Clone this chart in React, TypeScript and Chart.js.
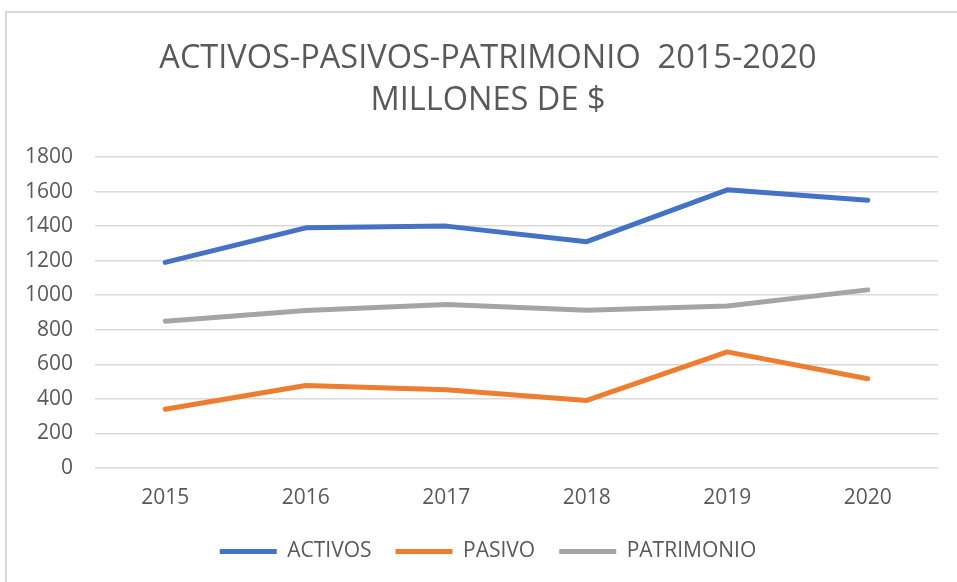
import React, { useEffect, useRef } from "react";
import { Chart, registerables } from "chart.js";

Chart.register(...registerables);

const categories = ["2015", "2016", "2017", "2018", "2019", "2020"];
const activos = [1190, 1390, 1400, 1310, 1610, 1550];
const pasivo = [340, 478, 453, 391, 672, 517];
const patrimonio = [850, 912, 947, 913, 938, 1031];
const seriesNames = ["ACTIVOS", "PASIVO", "PATRIMONIO"];
const titleLines = ["ACTIVOS-PASIVOS-PATRIMONIO  2015-2020", "MILLONES DE $"];
const yMin = 0;
const yMax = 1800;
const yStep = 200;

const FONT = "'Open Sans', 'Noto Sans', sans-serif";
const TEXT = "#595959";

const shiftBlocks = {
  id: "shiftBlocks",
  afterLayout(chart: any) {
    const dx = 7;
    if (chart.titleBlock) {
      chart.titleBlock.left += dx;
      chart.titleBlock.right += dx;
    }
    if (chart.legend) {
      chart.legend.left += dx;
      chart.legend.right += dx;
      chart.legend.top += 13;
      chart.legend.bottom += 13;
    }
  },
};

export default function App() {
  const ref = useRef<HTMLCanvasElement | null>(null);

  useEffect(() => {
    document.body.style.margin = "0";
    const canvas = ref.current;
    if (!canvas) return;
    const chart = new Chart(canvas, {
      type: "line",
      data: {
        labels: categories,
        datasets: [
          { label: seriesNames[0], data: activos, borderColor: "#4472C4", backgroundColor: "#4472C4" },
          { label: seriesNames[1], data: pasivo, borderColor: "#ED7D31", backgroundColor: "#ED7D31" },
          { label: seriesNames[2], data: patrimonio, borderColor: "#A5A5A5", backgroundColor: "#A5A5A5" },
        ].map((d) => ({
          ...d,
          borderWidth: 5,
          pointRadius: 0,
          pointHoverRadius: 0,
          tension: 0,
          borderCapStyle: "round" as const,
          borderJoinStyle: "round" as const,
          fill: false,
        })),
      },
      plugins: [shiftBlocks],
      options: {
        animation: false,
        responsive: false,
        maintainAspectRatio: false,
        layout: { padding: { left: 24, right: 19, top: 0, bottom: 23 } },
        plugins: {
          title: {
            display: true,
            text: titleLines,
            color: TEXT,
            font: { family: FONT, size: 32.5, weight: "normal", lineHeight: 42 / 32.5 },
            padding: { top: 38, bottom: 35 },
          },
          legend: {
            position: "bottom",
            labels: {
              usePointStyle: true,
              pointStyle: "line",
              pointStyleWidth: 57,
              boxHeight: 6,
              color: TEXT,
              font: { family: FONT, size: 21 },
              padding: 24,
            },
          },
          tooltip: { enabled: false },
        },
        scales: {
          x: {
            offset: true,
            grid: { display: false, drawTicks: false },
            border: { display: false },
            ticks: { color: TEXT, font: { family: FONT, size: 21 }, padding: 17 },
            afterFit: (scale: any) => {
              scale.height = 36;
            },
          },
          y: {
            min: yMin,
            max: yMax,
            ticks: {
              stepSize: yStep,
              color: TEXT,
              font: { family: FONT, size: 21 },
              padding: 22,
              callback: (v: any) => String(v),
            },
            grid: { color: "#D9D9D9", lineWidth: 1.5, drawTicks: false },
            border: { display: false },
            afterFit: (scale: any) => {
              scale.width = 71;
            },
          },
        },
      },
    });
    return () => chart.destroy();
  }, []);

  return (
    <div style={{ position: "relative", width: 957, height: 582, background: "#fff", overflow: "hidden" }}>
      <div
        style={{
          position: "absolute",
          left: 5,
          top: 11,
          width: 960,
          height: 600,
          borderTop: "2px solid #D9D9D9",
          borderLeft: "2px solid #D9D9D9",
        }}
      />
      <canvas ref={ref} width={957} height={582} style={{ position: "absolute", left: 0, top: 0, display: "block" }} />
    </div>
  );
}
